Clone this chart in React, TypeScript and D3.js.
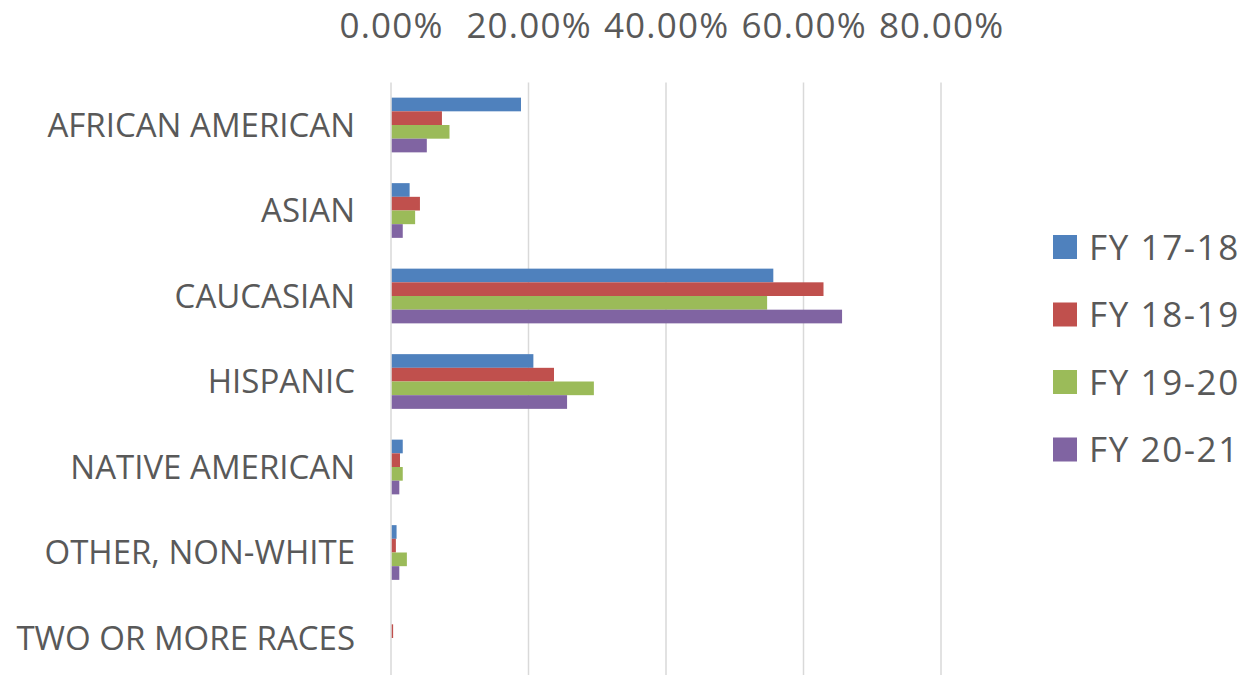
import React from "react";
import * as d3 from "d3";

const categories = [
  "AFRICAN AMERICAN",
  "ASIAN",
  "CAUCASIAN",
  "HISPANIC",
  "NATIVE AMERICAN",
  "OTHER, NON-WHITE",
  "TWO OR MORE RACES",
];

const seriesNames = ["FY 17-18", "FY 18-19", "FY 19-20", "FY 20-21"];
const seriesColors = ["#4F81BD", "#C0504D", "#9BBB59", "#8064A2"];

const fy1718 = [18.8, 2.6, 55.5, 20.6, 1.6, 0.7, 0];
const fy1819 = [7.3, 4.1, 62.8, 23.6, 1.2, 0.6, 0.2];
const fy1920 = [8.4, 3.4, 54.6, 29.4, 1.6, 2.2, 0];
const fy2021 = [5.1, 1.6, 65.5, 25.5, 1.1, 1.1, 0];

const seriesValues = [fy1718, fy1819, fy1920, fy2021];
const tickValues = [0, 20, 40, 60, 80];

const W = 1251;
const H = 675;
const textColor = "#595959";
const font = "'Open Sans', sans-serif";

export default function App() {
  const x = d3.scaleLinear().domain([0, 80]).range([391, 941]);
  const y = d3
    .scaleBand<string>()
    .domain(categories)
    .range([82.25, 680.75])
    .paddingInner(0.36)
    .paddingOuter(0.18);
  const inner = d3
    .scaleBand<string>()
    .domain(seriesNames)
    .range([0, y.bandwidth()]);

  return (
    <svg
      width={W}
      height={H}
      style={{ position: "absolute", left: 0, top: 0, display: "block", background: "#fff" }}
    >
      {tickValues.map((t) => (
        <line
          key={"g" + t}
          x1={x(t)}
          x2={x(t)}
          y1={82.5}
          y2={H}
          stroke="#d9d9d9"
          strokeWidth={1.5}
        />
      ))}
      {tickValues.map((t) => (
        <text
          key={"t" + t}
          x={x(t) + 0.6}
          y={38}
          textAnchor="middle"
          fontFamily={font}
          fontSize={35}
          letterSpacing={1.2}
          fill={textColor}
        >
          {d3.format(".2f")(t) + "%"}
        </text>
      ))}
      {categories.map((c, i) => (
        <g key={c}>
          {seriesValues.map((vals, s) => (
            <rect
              key={s}
              x={x(0) + 0.75}
              y={(y(c) as number) + (inner(seriesNames[s]) as number)}
              width={Math.max(0, x(vals[i]) - x(0))}
              height={inner.bandwidth()}
              fill={seriesColors[s]}
            />
          ))}
          <text
            x={355}
            y={(y(c) as number) + y.bandwidth() / 2}
            dy="0.36em"
            textAnchor="end"
            fontFamily={font}
            fontSize={33}
            fill={textColor}
          >
            {c}
          </text>
        </g>
      ))}
      {seriesNames.map((n, s) => (
        <g key={n} transform={`translate(1053, ${247 + s * 67.5})`}>
          <rect x={0} y={-12} width={24} height={24} fill={seriesColors[s]} />
          <text
            x={36}
            y={0}
            dy="0.36em"
            fontFamily={font}
            fontSize={35}
            letterSpacing={1.6}
            fill={textColor}
          >
            {n}
          </text>
        </g>
      ))}
    </svg>
  );
}
